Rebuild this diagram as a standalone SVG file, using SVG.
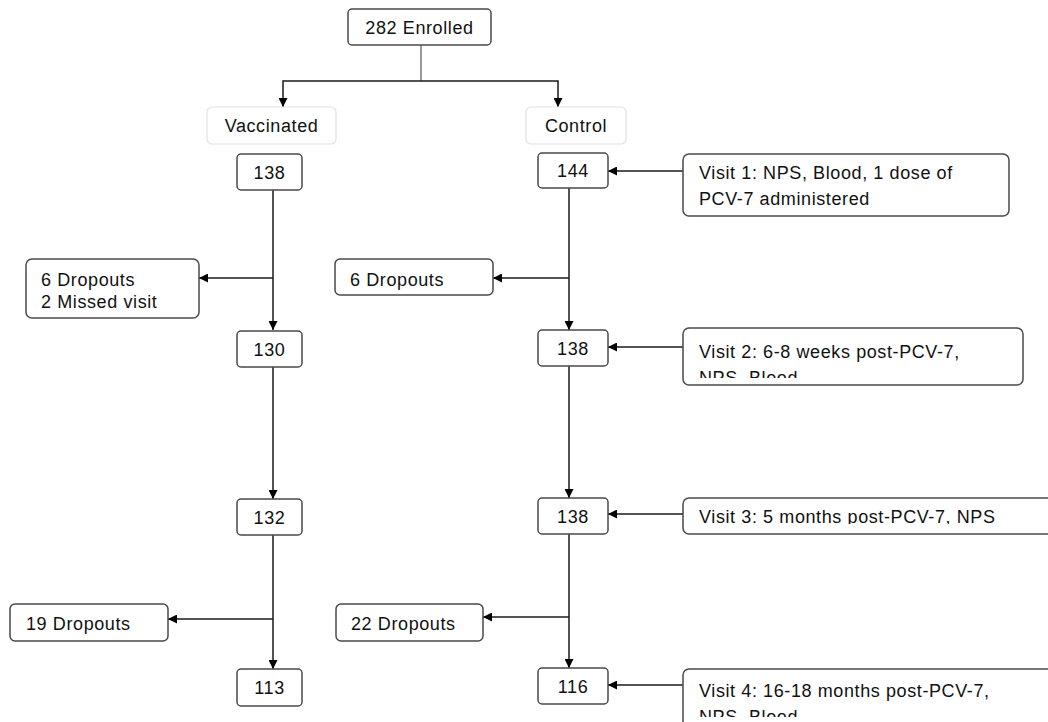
<svg xmlns="http://www.w3.org/2000/svg" width="1048" height="722" viewBox="0 0 1048 722">
<style>
.box{fill:#fff;stroke:#4a4a4a;stroke-width:1.5}
.lbl{fill:#fff;stroke:#e2e2e2;stroke-width:1.2}
.t{font-family:"Liberation Sans",Arial,sans-serif;font-size:18px;letter-spacing:0.6px;fill:#111}
.c{text-anchor:middle}
.ln{fill:none;stroke:#1a1a1a;stroke-width:1.5}
</style>
<defs>
<marker id="ah" viewBox="0 0 10 10" refX="10" refY="5" markerWidth="10" markerHeight="9" markerUnits="userSpaceOnUse" orient="auto">
<path d="M0,0 L10,5 L0,10 z" fill="#000"/>
</marker>
<clipPath id="cv2"><rect x="684" y="329" width="339" height="49"/></clipPath>
<clipPath id="cv3"><rect x="684" y="499" width="364" height="25"/></clipPath>
<clipPath id="cv4"><rect x="684" y="670" width="364" height="47"/></clipPath>
</defs>
<g id="connectors">
<line x1="421" y1="45" x2="421" y2="81" stroke="#777" stroke-width="1.5"/>
<path class="ln" d="M421,81 H283 V107" marker-end="url(#ah)"/>
<path class="ln" d="M421,81 H558 V107" marker-end="url(#ah)"/>
<line class="ln" x1="273" y1="190" x2="273" y2="330" marker-end="url(#ah)"/>
<line class="ln" x1="273" y1="278" x2="199" y2="278" marker-end="url(#ah)"/>
<line class="ln" x1="273" y1="367" x2="273" y2="499" marker-end="url(#ah)"/>
<line class="ln" x1="273" y1="535" x2="273" y2="669" marker-end="url(#ah)"/>
<line class="ln" x1="273" y1="619" x2="168" y2="619" marker-end="url(#ah)"/>
<line class="ln" x1="569" y1="188" x2="569" y2="330" marker-end="url(#ah)"/>
<line class="ln" x1="569" y1="278" x2="493" y2="278" marker-end="url(#ah)"/>
<line class="ln" x1="569" y1="366" x2="569" y2="498" marker-end="url(#ah)"/>
<line class="ln" x1="569" y1="534" x2="569" y2="668" marker-end="url(#ah)"/>
<line class="ln" x1="569" y1="617" x2="483" y2="617" marker-end="url(#ah)"/>
<line class="ln" x1="683" y1="171" x2="608" y2="171" marker-end="url(#ah)"/>
<line class="ln" x1="683" y1="347" x2="608" y2="347" marker-end="url(#ah)"/>
<line class="ln" x1="683" y1="514" x2="608" y2="514" marker-end="url(#ah)"/>
<line class="ln" x1="683" y1="685" x2="608" y2="685" marker-end="url(#ah)"/>
</g>
<g id="enrolled"><rect class="box" x="348" y="9" width="143" height="36" rx="4"/><text class="t c" x="419.5" y="33.5">282 Enrolled</text></g>
<g id="vaccinated"><rect class="lbl" x="207" y="107" width="129" height="37" rx="5"/><text class="t c" x="271.5" y="132">Vaccinated</text></g>
<g id="control"><rect class="lbl" x="526" y="107" width="100" height="37" rx="5"/><text class="t c" x="576" y="132">Control</text></g>
<g id="v138"><rect class="box" x="237" y="154" width="65" height="36" rx="4"/><text class="t c" x="269.5" y="178.5">138</text></g>
<g id="c144"><rect class="box" x="538" y="153" width="70" height="35" rx="4"/><text class="t c" x="573" y="177">144</text></g>
<g id="visit1"><rect class="box" x="683" y="154" width="326" height="62" rx="6"/><text class="t" x="699" y="179">Visit 1: NPS, Blood, 1 dose of</text><text class="t" x="699" y="205">PCV-7 administered</text></g>
<g id="vdrop1"><rect class="box" x="26" y="259" width="173" height="59" rx="6"/><text class="t" x="41" y="286">6 Dropouts</text><text class="t" x="41" y="308">2 Missed visit</text></g>
<g id="cdrop1"><rect class="box" x="335" y="259" width="158" height="36" rx="5"/><text class="t" x="350" y="286">6 Dropouts</text></g>
<g id="v130"><rect class="box" x="237" y="331" width="65" height="36" rx="4"/><text class="t c" x="269.5" y="355.5">130</text></g>
<g id="c138a"><rect class="box" x="538" y="330" width="70" height="36" rx="4"/><text class="t c" x="573" y="354.5">138</text></g>
<g id="visit2"><rect class="box" x="683" y="328" width="340" height="57" rx="6"/><g clip-path="url(#cv2)"><text class="t" x="699" y="358">Visit 2: 6-8 weeks post-PCV-7,</text><text class="t" x="699" y="384">NPS, Blood</text></g></g>
<g id="v132"><rect class="box" x="237" y="499" width="65" height="36" rx="4"/><text class="t c" x="269.5" y="523.5">132</text></g>
<g id="c138b"><rect class="box" x="538" y="498" width="70" height="36" rx="4"/><text class="t c" x="573" y="522.5">138</text></g>
<g id="visit3"><rect class="box" x="683" y="498" width="380" height="36" rx="6"/><g clip-path="url(#cv3)"><text class="t" x="699" y="523">Visit 3: 5 months post-PCV-7, NPS</text></g></g>
<g id="vdrop2"><rect class="box" x="10" y="604" width="158" height="37" rx="5"/><text class="t" x="26" y="630">19 Dropouts</text></g>
<g id="cdrop2"><rect class="box" x="336" y="604" width="147" height="37" rx="5"/><text class="t" x="351" y="630">22 Dropouts</text></g>
<g id="v113"><rect class="box" x="237" y="669" width="65" height="37" rx="4"/><text class="t c" x="269.5" y="694">113</text></g>
<g id="c116"><rect class="box" x="538" y="668" width="70" height="36" rx="4"/><text class="t c" x="573" y="692.5">116</text></g>
<g id="visit4"><rect class="box" x="683" y="669" width="380" height="70" rx="6"/><g clip-path="url(#cv4)"><text class="t" x="699" y="697">Visit 4: 16-18 months post-PCV-7,</text><text class="t" x="699" y="723">NPS, Blood</text></g></g>
</svg>
